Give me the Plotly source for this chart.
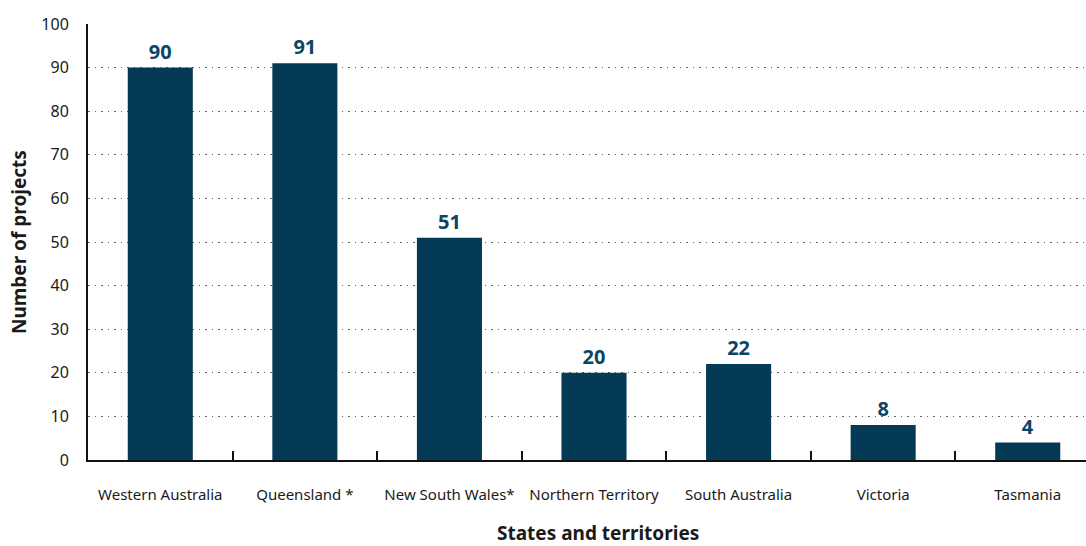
import plotly.graph_objects as go

categories = ["Western Australia", "Queensland *", "New South Wales*", "Northern Territory",
              "South Australia", "Victoria", "Tasmania"]
projects = [90, 91, 51, 20, 22, 8, 4]
y_ticks = [0, 10, 20, 30, 40, 50, 60, 70, 80, 90, 100]

bar_color = "#043a56"
font_family = "Noto Sans, Open Sans, sans-serif"

fig = go.Figure()
fig.add_trace(go.Bar(
    x=categories,
    y=projects,
    marker=dict(color=bar_color, line=dict(width=0)),
    width=0.45,
    text=[str(v) for v in projects],
    textposition="outside",
    textfont=dict(family=font_family, size=20, color="#0b4566", weight="bold"),
    cliponaxis=False,
))

fig.update_layout(
    width=1086,
    height=546,
    margin=dict(l=88, r=0, t=24, b=86),
    plot_bgcolor="white",
    paper_bgcolor="white",
    showlegend=False,
    font=dict(family=font_family, size=15, color="#1a1a1a"),
)

fig.update_xaxes(
    type="category",
    range=[-0.5, 6.403],
    showline=True,
    linecolor="#111111",
    linewidth=2,
    ticks="inside",
    tickson="boundaries",
    ticklen=9,
    tickcolor="#111111",
    tickwidth=1.5,
    showgrid=False,
    tickfont=dict(family=font_family, size=15, color="#1a1a1a"),
    ticklabelstandoff=20,
)

fig.update_yaxes(
    range=[0, 100],
    tickvals=y_ticks,
    showline=True,
    linecolor="#111111",
    linewidth=2,
    showgrid=True,
    gridcolor="#666666",
    griddash="1.5px,5px",
    gridwidth=1.3,
    zeroline=False,
    ticks="",
    tickfont=dict(family=font_family, size=16, color="#1a1a1a"),
    ticklabelstandoff=14,
)

fig.add_annotation(
    text="Number of projects",
    xref="paper", yref="paper",
    x=0, xshift=-69, y=0.5,
    xanchor="center", yanchor="middle",
    textangle=-90,
    showarrow=False,
    font=dict(family=font_family, size=19, color="#1a1a1a", weight="bold"),
)

fig.add_annotation(
    text="States and territories",
    xref="paper", yref="paper",
    x=0.511, y=0, yshift=-73,
    xanchor="center", yanchor="middle",
    showarrow=False,
    font=dict(family=font_family, size=19, color="#1a1a1a", weight="bold"),
)

fig.write_html("out.html")
